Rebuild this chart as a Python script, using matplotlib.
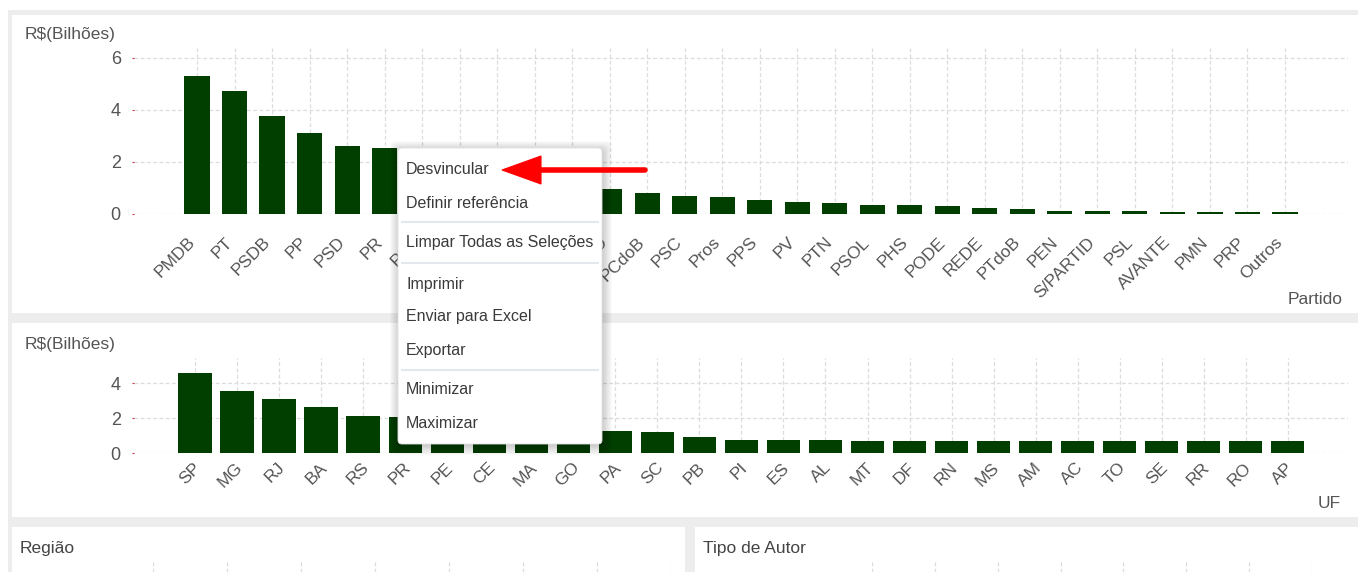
import matplotlib
matplotlib.use("Agg")
import matplotlib.pyplot as plt
import matplotlib.transforms as mtransforms
from matplotlib.patches import FancyBboxPatch, Rectangle, Polygon
import numpy as np

plt.rcParams['font.family'] = ['Liberation Sans', 'DejaVu Sans']

# ---------------- dados ----------------
partidos = ["PMDB", "PT", "PSDB", "PP", "PSD", "PR", "PSB", "DEM", "PTB", "PDT",
            "PRB", "SD", "PCdoB", "PSC", "Pros", "PPS", "PV", "PTN", "PSOL", "PHS",
            "PODE", "REDE", "PTdoB", "PEN", "S/PARTID", "PSL", "AVANTE", "PMN",
            "PRP", "Outros"]
valores_partido = [5.31, 4.74, 3.76, 3.13, 2.60, 2.55, 2.20, 1.90, 1.60, 1.35,
                   1.15, 0.97, 0.81, 0.69, 0.64, 0.53, 0.46, 0.41, 0.35, 0.35,
                   0.30, 0.24, 0.18, 0.12, 0.12, 0.12, 0.06, 0.06, 0.06, 0.06]

ufs = ["SP", "MG", "RJ", "BA", "RS", "PR", "PE", "CE", "MA", "GO", "PA", "SC",
       "PB", "PI", "ES", "AL", "MT", "DF", "RN", "MS", "AM", "AC", "TO", "SE",
       "RR", "RO", "AP"]
valores_uf = [4.57, 3.54, 3.09, 2.66, 2.15, 2.06, 1.90, 1.75, 1.55, 1.40, 1.29, 1.20,
              0.93, 0.78, 0.78, 0.78, 0.69, 0.69, 0.69, 0.69, 0.69, 0.69, 0.69, 0.69,
              0.69, 0.69, 0.69]

menu_itens = ["Desvincular", "Definir referência", None, "Limpar Todas as Seleções", None,
              "Imprimir", "Enviar para Excel", "Exportar", None, "Minimizar", "Maximizar"]

VERDE = "#003f00"
TXT = "#555555"
GRID = "#dcdcdc"

W, H = 1358, 572
fig = plt.figure(figsize=(W / 100, H / 100), dpi=100)
fig.patch.set_facecolor("white")


def px_axes(x0, y0, x1, y1, **kw):
    # eixos posicionados em pixels (origem no topo)
    return fig.add_axes([x0 / W, 1 - y1 / H, (x1 - x0) / W, (y1 - y0) / H], **kw)


# ---------------- fundo / paineis ----------------
bg = px_axes(0, 0, W, H, zorder=-10)
bg.set_xlim(0, W)
bg.set_ylim(H, 0)
bg.axis('off')
bg.add_patch(Rectangle((8, 10), W - 8, H - 10, facecolor="#ededed", edgecolor="none"))
for (x0, y0, x1, y1) in [(12, 15, W, 313), (12, 323, W, 517), (12, 527, 685, H), (695, 527, W, H)]:
    bg.add_patch(Rectangle((x0, y0), x1 - x0, y1 - y0, facecolor="white", edgecolor="none"))


def bar_chart(ax, cats, vals, width, lims, yticks, dx, dy):
    x = np.arange(len(cats))
    ax.bar(x, vals, width=width, color=VERDE, zorder=3)
    ax.set_xlim(-lims[0], len(cats) - 1 + lims[1])
    ax.set_ylim(0, lims[2])
    ax.set_yticks(yticks)
    ax.set_xticks(x)
    ax.tick_params(axis='x', length=0, labelbottom=False)
    ax.tick_params(axis='y', length=1.5, color="#cc3344", labelsize=13, labelcolor=TXT, pad=8)
    # rótulos inclinados, ancorados no fim do texto
    off = mtransforms.ScaledTranslation(dx / 100, -dy / 100, fig.dpi_scale_trans)
    tr = ax.get_xaxis_transform() + off
    for xi, c in zip(x, cats):
        ax.text(xi, 0, c, transform=tr, rotation=45, rotation_mode='anchor',
                ha='right', va='baseline', fontsize=12.5, color=TXT, clip_on=False)
    ax.grid(True, linestyle=(0, (3, 2)), color=GRID, linewidth=0.9, zorder=0)
    ax.set_axisbelow(True)
    for s in ax.spines.values():
        s.set_visible(False)
    ax.set_facecolor("none")


# ---------------- grafico Partido ----------------
ax1 = px_axes(134, 214 - 6.4 * 26, 1348, 214)
bar_chart(ax1, partidos, valores_partido, 0.67, (1.68, 1.68, 6.4), [0, 2, 4, 6], -1.5, 29)
fig.text(25 / W, 1 - 35 / H, "R$(Bilhões)", fontsize=12.5, color=TXT, va='center', ha='left')
fig.text(1343 / W, 1 - 300 / H, "Partido", fontsize=12.5, color=TXT, va='center', ha='right')

# ---------------- grafico UF ----------------
ax2 = px_axes(134, 453.3 - 5.46 * 17.5, 1348, 453.3)
bar_chart(ax2, ufs, valores_uf, 0.79, (1.45, 1.43, 5.46), [0, 2, 4], 6.5, 15)
fig.text(25 / W, 1 - 344 / H, "R$(Bilhões)", fontsize=12.5, color=TXT, va='center', ha='left')
fig.text(1341 / W, 1 - 504 / H, "UF", fontsize=12.5, color=TXT, va='center', ha='right')

# ---------------- paineis inferiores ----------------
fig.text(20 / W, 1 - 549 / H, "Região", fontsize=12.5, color="#444444", va='center', ha='left')
fig.text(703 / W, 1 - 549 / H, "Tipo de Autor", fontsize=12.5, color="#444444", va='center', ha='left')
for (x0, x1) in [(153, 671), (872, 1312)]:
    a = px_axes(x0, 560, x1, H)
    a.set_xlim(0, 7)
    a.set_xticks(range(8))
    a.set_yticks([])
    a.tick_params(length=0, labelbottom=False)
    a.grid(True, axis='x', linestyle=(0, (3, 2)), color=GRID, linewidth=0.9)
    for s in a.spines.values():
        s.set_visible(False)
    a.set_facecolor("none")

# ---------------- menu de contexto ----------------
ov = px_axes(0, 0, W, H, zorder=20)
ov.set_xlim(0, W)
ov.set_ylim(H, 0)
ov.axis('off')

mx0, my0, mx1, my1 = 398, 148, 602, 444
for i in range(10, 0, -1):
    ov.add_patch(FancyBboxPatch((mx0 - i + 2, my0 - i + 3), (mx1 - mx0) + 2 * i - 2, (my1 - my0) + 2 * i - 2,
                                boxstyle="round,pad=0,rounding_size=6", facecolor="black",
                                edgecolor="none", alpha=0.018))
ov.add_patch(FancyBboxPatch((mx0, my0), mx1 - mx0, my1 - my0, boxstyle="round,pad=0,rounding_size=4",
                            facecolor="white", edgecolor="#e2e2e2", linewidth=0.6))

ys_itens = [170, 203, 222, 243, 263, 284, 317, 350, 370, 390, 423]
for y, item in zip(ys_itens, menu_itens):
    if item is None:
        ov.plot([401, 599], [y, y], color="#e3e8ec", linewidth=1.5, solid_capstyle='butt')
    else:
        ov.text(406, y, item, fontsize=11.5, color="#3a3a3a", va='center', ha='left')

# seta vermelha
ov.plot([540, 645], [170, 170], color="#ff0000", linewidth=4, solid_capstyle='round')
ov.add_patch(Polygon([(502, 170), (541, 156), (541, 184)], closed=True,
                     facecolor="#ff0000", edgecolor="#ff0000", linewidth=0.8))

fig.savefig("out.png", dpi=100)
